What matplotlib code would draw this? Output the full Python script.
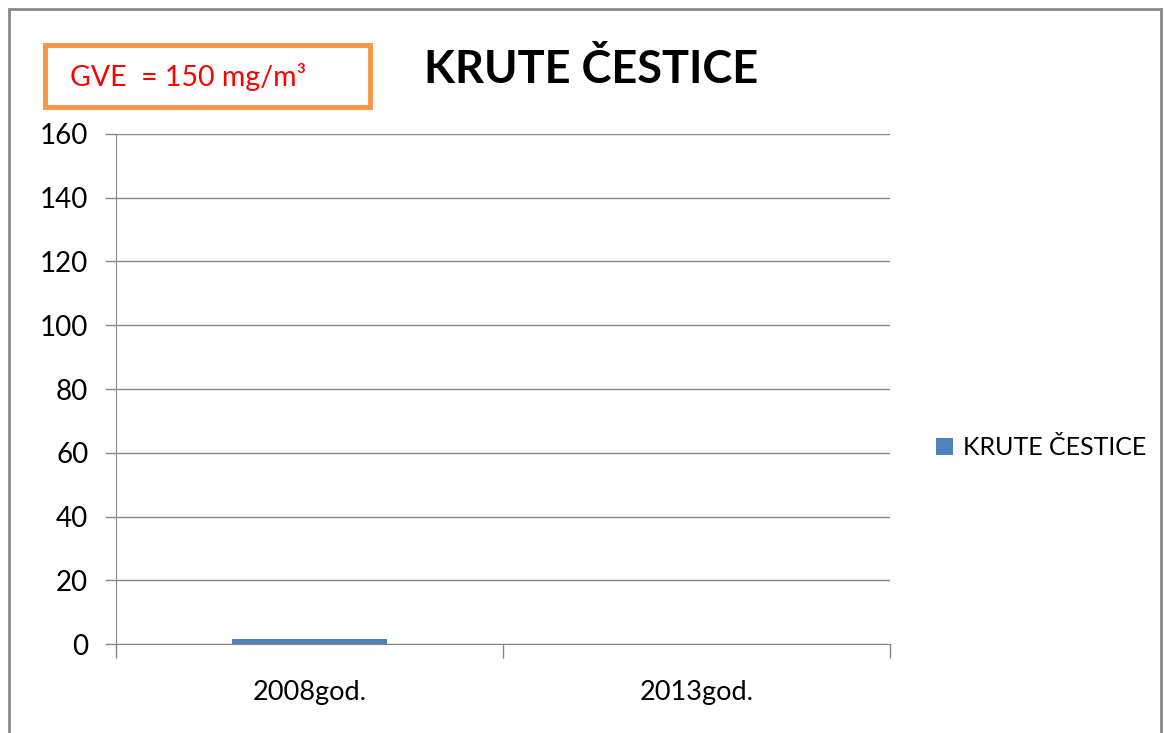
import matplotlib.pyplot as plt
from matplotlib.patches import Rectangle

# ---------- Data ----------
years = ["2008god.", "2013god."]
values = [1.5, 0]
series_name = "KRUTE ČESTICE"
y_ticks = [0, 20, 40, 60, 80, 100, 120, 140, 160]

plt.rcParams['font.family'] = ['Lato', 'DejaVu Sans']

fig = plt.figure(figsize=(11.64, 7.33), dpi=100)
ax = fig.add_axes([0.0997, 0.1214, 0.6649, 0.6958])

x = range(len(years))
ax.bar(x, values, width=0.4, color="#4F81BD", label=series_name, zorder=3)

ax.set_xlim(-0.5, len(years) - 0.5)
ax.set_ylim(0, 160)
ax.set_yticks(y_ticks)
ax.tick_params(axis='y', labelsize=20, length=8, color="#868686", width=1, pad=12)
ax.grid(axis='y', color="#868686", linewidth=1, zorder=0)

# category labels between boundary ticks
ax.set_xticks([-0.5, 0.5, 1.5])
ax.set_xticklabels([])
ax.set_xticks(list(x), minor=True)
ax.set_xticklabels(years, minor=True, fontsize=19.5)
ax.tick_params(axis='x', which='major', length=10, color="#868686", width=1)
ax.tick_params(axis='x', which='minor', length=0, pad=26)

for side in ["top", "right"]:
    ax.spines[side].set_visible(False)
ax.spines["left"].set_color("#868686")
ax.spines["bottom"].set_color("#868686")

fig.text(0.508, 0.905, "KRUTE ČESTICE", fontsize=32.5, fontweight="bold",
         ha="center", va="center")

# GVE note in orange box
fig.patches.append(Rectangle((45 / 1164, 1 - 107 / 733), 325 / 1164, 62 / 733,
                             transform=fig.transFigure, fill=False,
                             edgecolor="#F79646", linewidth=3.5))
fig.text(70 / 1164, 1 - 77 / 733, "GVE  = 150 mg/m³", color="#FF0000",
         fontsize=20.5, ha="left", va="center")

# figure border
fig.patches.append(Rectangle((9 / 1164, -0.01), 1152 / 1164, 1 - 9 / 733 + 0.01,
                             transform=fig.transFigure, fill=False,
                             edgecolor="#888888", linewidth=2))

ax.legend(loc="center left", bbox_to_anchor=(1.03, 0.385), frameon=False,
          fontsize=18, handlelength=0.7, handleheight=0.7, handletextpad=0.4)

fig.savefig("out.png", dpi=100)
